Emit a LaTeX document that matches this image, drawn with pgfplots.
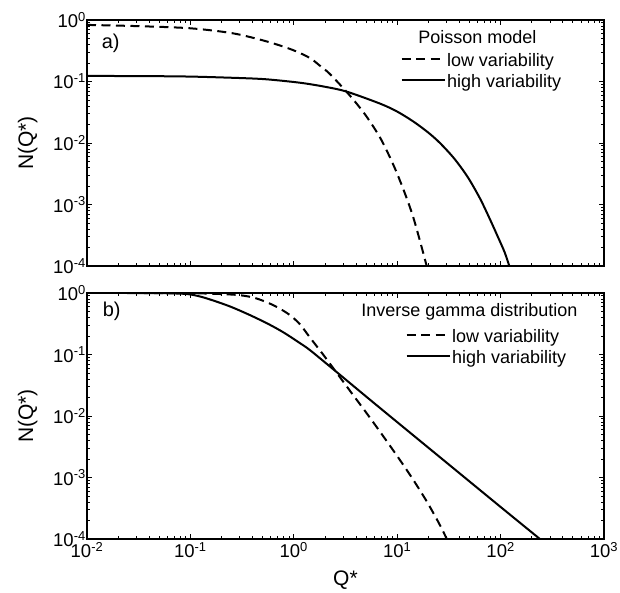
\documentclass[border=0pt]{standalone}
\usepackage{fontspec}
\setmainfont{Liberation Sans}
\usepackage{pgfplots}
\pgfplotsset{compat=1.18}
\pgfplotsset{legend image code/.code={\draw[#1] (0pt,4pt) -- (43pt,4pt);}}
\begin{document}
\begin{tikzpicture}
% a) Poisson model
\begin{axis}[
    name=top,
    scale only axis, width=517pt, height=246pt,
    xmode=log, ymode=log,
    xmin=1e-2, xmax=1e3, ymin=1e-4, ymax=1,
    xtick={1e-2,1e-1,1e0,1e1,1e2,1e3},
    xticklabels={},
    ytick={1e-4,1e-3,1e-2,1e-1,1e0},
    yticklabels={10\textsuperscript{-4},10\textsuperscript{-3},10\textsuperscript{-2},10\textsuperscript{-1},10\textsuperscript{0}},
    tick align=inside, major tick length=5pt, minor tick length=3pt,
    every tick/.append style={black, line width=0.8pt},
    axis line style={black, line width=1.2pt},
    tick label style={font=\fontsize{18.5}{22}\selectfont},
    yticklabel style={inner xsep=1pt},
    ylabel={N(Q*)},
    ylabel style={at={(axis description cs:-0.1044,0.5)}, anchor=base, font=\fontsize{21}{24}\selectfont},
    legend style={draw=none, fill=none, anchor=north west, at={(rel axis cs:0.606,0.870)},
      font=\fontsize{18}{21}\selectfont, inner sep=0pt, row sep=0pt,
      nodes={inner sep=1.5pt, text height=13pt, text depth=5pt}},
    legend cell align=left,
  ]
\addplot[black, line width=2pt, dash pattern=on 9pt off 5.5pt, smooth] coordinates {
  (0.01,0.832) (0.0316,0.794) (0.1,0.733) (0.258,0.607) (0.55,0.447)
  (0.984,0.324) (1.436,0.240) (1.778,0.182) (2.239,0.132) (3.49,0.0589)
  (5.01,0.0275) (7.08,0.01096) (10,0.00316) (14.13,0.00066) (19.28,0.0001)
};
\addlegendentry{low variability}
\addplot[black, line width=2pt, smooth] coordinates {
  (0.01,0.123) (0.0316,0.1225) (0.1,0.1202) (0.316,0.1135) (0.55,0.1084)
  (1.148,0.0955) (1.995,0.0822) (3.25,0.0684) (6.82,0.0437) (10,0.0324)
  (14.3,0.0224) (19.95,0.0148) (25.9,0.01) (35.5,0.00562) (47.9,0.00282)
  (63.1,0.00126) (79.4,0.000562) (95.5,0.000282) (109.6,0.000166) (121.3,0.0001)
};
\addlegendentry{high variability}
\node[anchor=east, font=\fontsize{18}{21}\selectfont] at (rel axis cs:0.876,0.931) {Poisson model};
\node[font=\fontsize{20}{22}\selectfont] at (rel axis cs:0.0458,0.905) {a)};
\coordinate (tl) at (rel axis cs:0,1);
\end{axis}
% b) inverse gamma distribution
\begin{axis}[
    at={(top.south west)}, anchor=north west, yshift=-27pt,
    scale only axis, width=517pt, height=246pt,
    xmode=log, ymode=log,
    xmin=1e-2, xmax=1e3, ymin=1e-4, ymax=1,
    xtick={1e-2,1e-1,1e0,1e1,1e2,1e3},
    xticklabels={10\textsuperscript{-2},10\textsuperscript{-1},10\textsuperscript{0},10\textsuperscript{1},10\textsuperscript{2},10\textsuperscript{3}},
    ytick={1e-4,1e-3,1e-2,1e-1,1e0},
    yticklabels={10\textsuperscript{-4},10\textsuperscript{-3},10\textsuperscript{-2},10\textsuperscript{-1},10\textsuperscript{0}},
    tick align=inside, major tick length=5pt, minor tick length=3pt,
    every tick/.append style={black, line width=0.8pt},
    axis line style={black, line width=1.2pt},
    tick label style={font=\fontsize{18.5}{22}\selectfont},
    yticklabel style={inner xsep=1pt},
    xlabel={Q*},
    xlabel style={at={(axis description cs:0.5,-0.187)}, anchor=base, font=\fontsize{21}{24}\selectfont},
    ylabel={N(Q*)},
    ylabel style={at={(axis description cs:-0.1044,0.5)}, anchor=base, font=\fontsize{21}{24}\selectfont},
    legend style={draw=none, fill=none, anchor=north west, at={(rel axis cs:0.616,0.858)},
      font=\fontsize{18}{21}\selectfont, inner sep=0pt, row sep=0pt,
      nodes={inner sep=1.5pt, text height=13pt, text depth=5pt}},
    legend cell align=left,
  ]
\addplot[black, line width=2pt, dash pattern=on 9pt off 5.5pt, smooth] coordinates {
  (0.0234,1.0) (0.1,0.993) (0.26,0.940) (0.398,0.851) (0.547,0.708)
  (0.708,0.575) (0.918,0.437) (1.148,0.309) (1.436,0.188) (1.862,0.107)
  (2.41,0.0598) (3.548,0.0248) (5.07,0.01107) (7.41,0.00457) (10.64,0.00192)
  (14.45,0.000891) (19.28,0.00041) (25.1,0.000186) (30.2,0.0001)
};
\addlegendentry{low variability}
\addplot[black, line width=2pt, smooth] coordinates {
  (0.0234,1.0) (0.0501,0.995) (0.0912,0.964) (0.126,0.871) (0.179,0.724)
  (0.251,0.589) (0.377,0.437) (0.562,0.316) (0.794,0.229) (1.148,0.153)
  (1.436,0.1175) (2.41,0.0575) (6.31,0.01503) (25.1,0.002234) (100,0.000332)
  (240,0.0001)
};
\addlegendentry{high variability}
\node[anchor=east, font=\fontsize{18}{21}\selectfont] at (rel axis cs:0.9555,0.923) {Inverse gamma distribution};
\node[font=\fontsize{20}{22}\selectfont] at (rel axis cs:0.0478,0.924) {b)};
\end{axis}
\pgfresetboundingbox
\path ([shift={(-87pt,20pt)}]tl) rectangle ++(620pt,-593pt);
\end{tikzpicture}
\end{document}
